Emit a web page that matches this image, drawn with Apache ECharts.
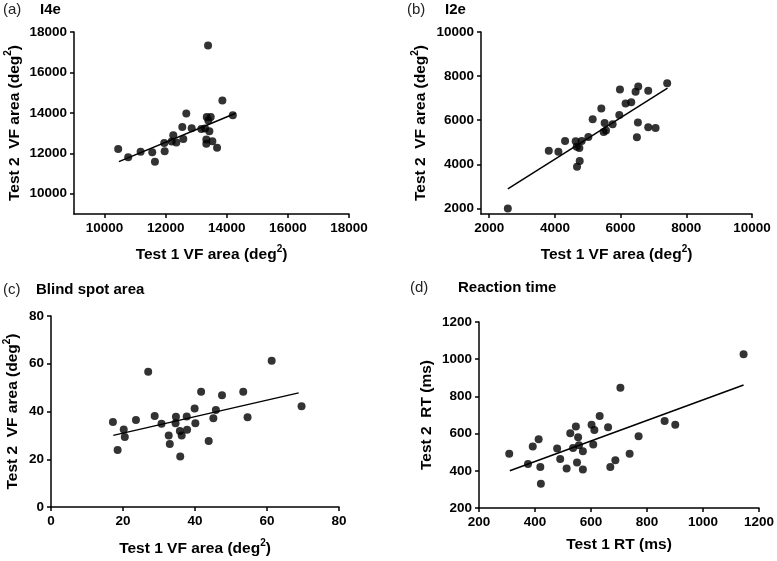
<!DOCTYPE html>
<html>
<head>
<meta charset="utf-8">
<script src="https://cdn.jsdelivr.net/npm/echarts@6/dist/echarts.min.js"></script>
<style>
  html, body { margin: 0; padding: 0; background: #fff; }
  #chart { width: 777px; height: 561px; }
</style>
</head>
<body>
<div id="chart"></div>
<script>
// (a) I4e
const aTest1 = [10446, 10774, 11180, 11561, 11649, 11967, 11954, 12249, 12197, 12348, 12577, 12544, 12675, 12852, 13167, 13289, 13387, 13344, 13475, 13397, 13430, 13331, 13331, 13528, 13682, 13856, 14197];
const aTest2 = [12218, 11802, 12084, 12050, 11589, 12099, 12515, 12891, 12579, 12530, 12713, 13307, 13965, 13238, 13208, 13223, 17332, 13802, 13802, 13619, 13089, 12678, 12480, 12594, 12282, 14609, 13881];
const aFitX = [10470, 14290];
const aFitY = [11590, 13980];
const aTicks = [10000, 12000, 14000, 16000, 18000];

// (b) I2e
const bTest1 = [2567, 3813, 4106, 4309, 4633, 4663, 4744, 4815, 4755, 4673, 5018, 5150, 5413, 5484, 5514, 5555, 5757, 5960, 5980, 6152, 6324, 6456, 6537, 6527, 6496, 6841, 6841, 7064, 7418];
const bTest2 = [2000, 4621, 4576, 5060, 5045, 4803, 4742, 5060, 4151, 3894, 5242, 6045, 6530, 5469, 5878, 5530, 5818, 6242, 7393, 6757, 6818, 7287, 7530, 5893, 5227, 7333, 5681, 5651, 7681];
const bFitX = [2567, 7428];
const bFitY = [2894, 7454];
const bTicks = [2000, 4000, 6000, 8000, 10000];

// (c) Blind spot area
const cTest1 = [17.2, 18.5, 20.2, 20.5, 23.6, 27.0, 28.8, 30.7, 32.7, 33.0, 34.7, 34.6, 35.8, 35.9, 36.3, 37.7, 37.8, 39.9, 40.1, 41.7, 43.8, 45.1, 45.8, 47.5, 53.4, 54.6, 61.3, 69.6];
const cTest2 = [35.6, 23.9, 32.5, 29.3, 36.4, 56.7, 38.1, 34.9, 30.0, 26.4, 37.8, 35.1, 31.8, 21.1, 29.9, 37.9, 32.4, 41.3, 35.1, 48.3, 27.6, 37.2, 40.6, 46.8, 48.3, 37.6, 61.3, 42.2];
const cFitX = [17.3, 68.8];
const cFitY = [30.0, 47.8];
const cTicks = [0, 20, 40, 60, 80];

// (d) Reaction time
const dTest1 = [308, 375, 392, 413, 419, 421, 479, 490, 513, 526, 536, 546, 554, 557, 550, 571, 571, 602, 612, 608, 631, 661, 705, 669, 687, 738, 770, 863, 901, 1145];
const dTest2 = [491, 436, 530, 570, 420, 330, 520, 464, 412, 602, 523, 638, 580, 538, 445, 505, 407, 648, 620, 541, 695, 634, 846, 420, 457, 491, 586, 668, 648, 1027];
const dFitX = [310, 1145];
const dFitY = [400, 861];
const dTicks = [200, 400, 600, 800, 1000, 1200];

const FONT = '"Liberation Sans", Arial, sans-serif';

const pairs = (xs, ys) => xs.map((x, i) => [x, ys[i]]);

function axis(gridIndex, min, max, ticks, name, gap) {
  return {
    type: 'value',
    gridIndex: gridIndex,
    min: min,
    max: max,
    name: name,
    nameLocation: 'middle',
    nameGap: gap,
    nameTextStyle: {
      color: '#000',
      fontFamily: FONT,
      fontSize: 15.5,
      fontWeight: 'bold',
      lineHeight: 22,
      rich: {
        s: { fontFamily: FONT, fontSize: 10, fontWeight: 'bold', lineHeight: 10, verticalAlign: 'top', color: '#000' }
      }
    },
    axisLine: { show: true, onZero: false, lineStyle: { color: '#000', width: 1.5 } },
    axisTick: { show: true, length: 4, customValues: ticks, lineStyle: { color: '#000', width: 1.5 } },
    axisLabel: {
      customValues: ticks, color: '#000', fontFamily: FONT, fontSize: 13.5, fontWeight: 'bold', margin: 7,
      formatter: v => String(v)
    },
    splitLine: { show: false }
  };
}

function scatter(i, xs, ys) {
  return {
    type: 'scatter', xAxisIndex: i, yAxisIndex: i,
    data: pairs(xs, ys), symbolSize: 8,
    itemStyle: { color: '#000' }
  };
}

function fit(i, xs, ys) {
  return {
    type: 'line', xAxisIndex: i, yAxisIndex: i,
    data: pairs(xs, ys), symbol: 'none', silent: true,
    lineStyle: { color: '#000', width: 1.5 }
  };
}

function label(x, y, text, bold) {
  return {
    type: 'text', x: x, y: y,
    style: {
      text: text, fill: bold ? '#000' : '#222',
      fontFamily: FONT, fontSize: 15, fontWeight: bold ? 'bold' : 'normal',
      verticalAlign: 'middle'
    }
  };
}

const vfX = 'Test 1 VF area (deg{s|2})';
const vfY = 'Test 2  VF area (deg{s|2})';

const chart = echarts.init(document.getElementById('chart'));
chart.setOption({
  animation: false,
  backgroundColor: '#fff',
  grid: [
    { left: 74, top: 32, width: 275, height: 182 },
    { left: 481, top: 32, width: 271, height: 182 },
    { left: 51, top: 316, width: 288, height: 192 },
    { left: 479, top: 322, width: 280, height: 186 }
  ],
  xAxis: [
    axis(0, 9000, 18000, aTicks, vfX, 30),
    axis(1, 1750, 10000, bTicks, vfX, 30),
    axis(2, 0, 80, cTicks, vfX, 31),
    axis(3, 200, 1200, dTicks, 'Test 1 RT (ms)', 26)
  ],
  yAxis: [
    axis(0, 9000, 18000, aTicks, vfY, 46),
    axis(1, 1750, 10000, bTicks, vfY, 49),
    axis(2, 0, 80, cTicks, vfY, 27),
    axis(3, 200, 1200, dTicks, 'Test 2  RT (ms)', 40)
  ],
  series: [
    scatter(0, aTest1, aTest2), fit(0, aFitX, aFitY),
    scatter(1, bTest1, bTest2), fit(1, bFitX, bFitY),
    scatter(2, cTest1, cTest2), fit(2, cFitX, cFitY),
    scatter(3, dTest1, dTest2), fit(3, dFitX, dFitY)
  ],
  graphic: [
    label(3, 10, '(a)', false), label(40, 10, 'I4e', true),
    label(407, 10, '(b)', false), label(445, 10, 'I2e', true),
    label(3, 290, '(c)', false), label(36, 290, 'Blind spot area', true),
    label(410, 288, '(d)', false), label(458, 288, 'Reaction time', true)
  ]
});

window.addEventListener('resize', () => chart.resize());
</script>
</body>
</html>
